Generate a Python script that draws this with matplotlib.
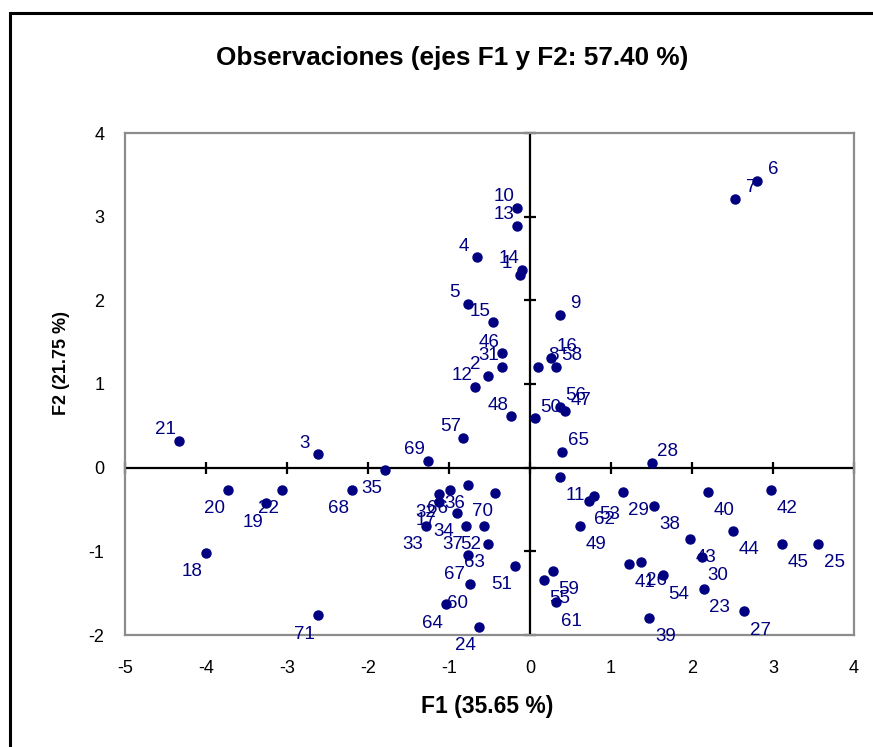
import matplotlib
matplotlib.use("Agg")
import matplotlib.pyplot as plt
from matplotlib.patches import Rectangle

#%% data
obs = [str(i) for i in range(1, 72)]
f1 = [-0.126, -0.516, -2.620, -0.657, -0.768, 2.800, 2.533, 0.093, 0.368, -0.158,
      0.368, -0.681, -0.158, -0.096, -0.459, 0.257, -1.126, -4.006, -3.257, -3.731,
      -4.336, -3.064, 2.146, -0.632, 3.558, 1.368, 2.648, 1.504, 1.146, 2.126,
      -0.348, -1.126, -1.290, -0.904, -1.788, -0.768, -0.788, 1.528, 1.475, 2.200,
      1.228, 2.978, 1.978, 2.504, 3.114, -0.348, 0.430, -0.239, 0.620, 0.060,
      -0.183, -0.570, 0.784, 1.640, 0.175, 0.368, -0.821, 0.319, 0.282, -0.738,
      0.315, 0.726, -0.521, -1.043, 0.397, -0.985, -0.768, -2.202, -1.262, -0.430,
      -2.620]
f2 = [2.303, 1.098, 0.161, 2.514, 1.956, 3.431, 3.212, 1.206, 1.824, 3.108,
      -0.110, 0.963, 2.892, 2.362, 1.737, 1.310, -0.409, -1.019, -0.428, -0.269,
      0.321, -0.269, -1.445, -1.904, -0.911, -1.130, -1.717, 0.057, -0.293, -1.067,
      1.206, -0.317, -0.700, -0.536, -0.026, -0.209, -0.700, -0.457, -1.797, -0.293,
      -1.154, -0.269, -0.855, -0.751, -0.911, 1.366, 0.672, 0.616, -0.700, 0.590,
      -1.178, -0.700, -0.341, -1.286, -1.342, 0.727, 0.355, 1.206, -1.234, -1.394,
      -1.609, -0.401, -0.915, -1.633, 0.189, -0.269, -1.047, -0.265, 0.081, -0.297,
      -1.764]

xticks = [-5, -4, -3, -2, -1, 0, 1, 2, 3, 4]
yticks = [-2, -1, 0, 1, 2, 3, 4]

title = "Observaciones (ejes F1 y F2: 57.40 %)"
xlabel = "F1 (35.65 %)"
ylabel = "F2 (21.75 %)"

#%% style
plt.rcParams['font.family'] = ['Liberation Sans', 'DejaVu Sans']
plt.rcParams['axes.unicode_minus'] = False  # plain hyphen like the original
navy = '#000080'
W, H = 873, 747

fig = plt.figure(figsize=(W / 100, H / 100), dpi=100)
# axes placed to match the plot area in pixels
left, right, top, bottom = 125, 854, 133, 635
ax = fig.add_axes([left / W, 1 - bottom / H, (right - left) / W, (bottom - top) / H])

ax.set_xlim(xticks[0], xticks[-1])
ax.set_ylim(yticks[0], yticks[-1])

# plot area border in gray
for s in ax.spines.values():
    s.set_color('#8c8c8c')
    s.set_linewidth(1.6)

# tick labels only, ticks are drawn on the zero lines
ax.set_xticks(xticks)
ax.set_yticks(yticks)
ax.tick_params(axis='x', length=0, pad=18, labelsize=13)
ax.tick_params(axis='y', length=0, pad=15, labelsize=13)

# zero axes with crossing tick marks
ax.axhline(0, color='black', lw=1.6, zorder=1)
ax.axvline(0, color='black', lw=1.6, zorder=1)
ax.plot(xticks, [0] * len(xticks), linestyle='none', marker='|', ms=9,
        mew=1.6, color='black', zorder=1, clip_on=False)
ax.plot([0] * len(yticks), yticks, linestyle='none', marker='_', ms=9,
        mew=1.6, color='black', zorder=1, clip_on=False)

# observations
ax.plot(f1, f2, linestyle='none', marker='o', ms=6.5, color=navy, zorder=3,
        clip_on=False)

# labels go away from the origin, by quadrant (offsets in points)
for name, x, y in zip(obs, f1, f2):
    dx = 11.5 if x >= 0 else -9.4
    dy = 8.0 if y >= 0 else -13.5
    ax.annotate(name, (x, y), xytext=(dx, dy), textcoords='offset points',
                ha='center', va='center', fontsize=13.5, color=navy, zorder=4,
                annotation_clip=False)

# axis titles and chart title
fig.text(487 / W, 1 - 707 / H, xlabel, ha='center', va='center',
         fontsize=16.5, fontweight='bold')
fig.text(62 / W, 1 - 363 / H, ylabel, ha='center', va='center', rotation=90,
         fontsize=13, fontweight='bold')
fig.text(452 / W, 1 - 58 / H, title, ha='center', va='center',
         fontsize=18.8, fontweight='bold')

# outer chart frame, cut by the picture edge on the right and bottom
fig.patches.append(Rectangle((10 / W, -0.1), 1.2, 1 - 13 / H + 0.1,
                             transform=fig.transFigure, fill=False,
                             edgecolor='black', lw=2.2, clip_on=False))

fig.savefig('out.png', dpi=100)
